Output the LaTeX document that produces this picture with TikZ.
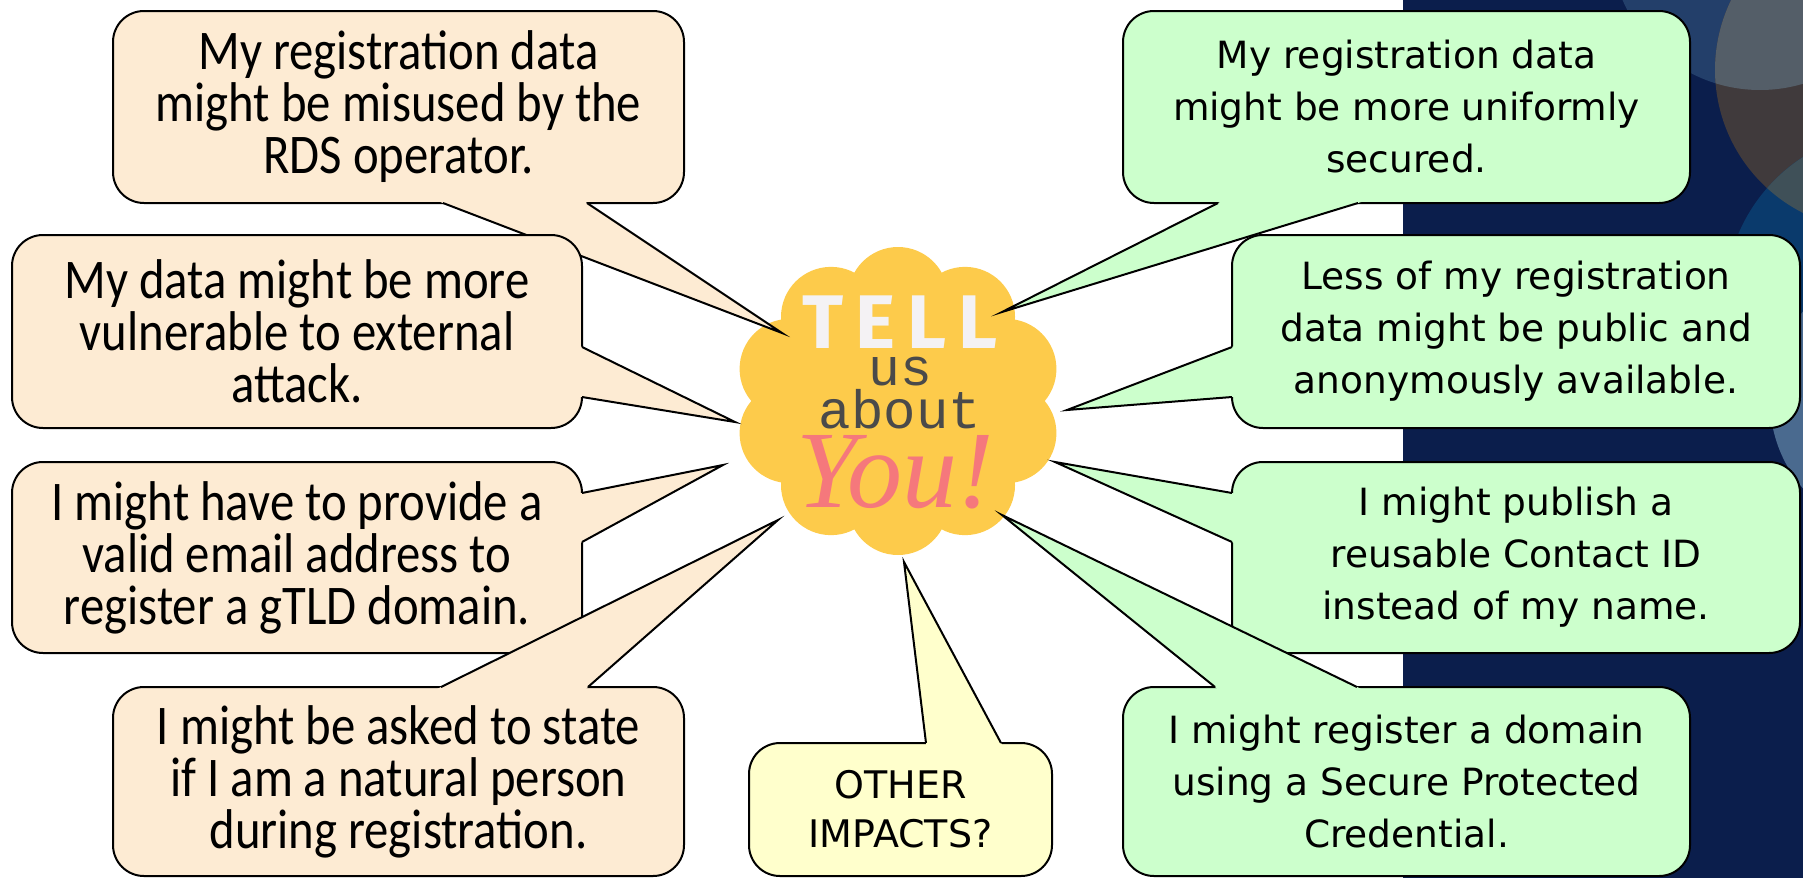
\documentclass[tikz,border=0pt]{standalone}
\usepackage{fontspec}
\usepackage{tikz}
\usetikzlibrary{positioning}
\usetikzlibrary{calc}

\newfontfamily\worryfont{Carlito}[FakeStretch=0.87]
\newfontfamily\hopefont{DejaVu Sans}
\newfontfamily\tellfont{Fira Sans}
\newfontfamily\aboutfont{Liberation Mono}
\newfontfamily\youfont{Liberation Serif}

\definecolor{peach}{HTML}{FDEBD3}
\definecolor{mint}{HTML}{CCFFCC}
\definecolor{lemon}{HTML}{FFFFCC}
\definecolor{sun}{HTML}{FDCB4B}
\definecolor{navy}{HTML}{0B1E4C}
\definecolor{bubbleA}{HTML}{233F6A}
\definecolor{bubbleB}{HTML}{403A3C}
\definecolor{bubbleAB}{HTML}{545E68}
\definecolor{bubbleC}{HTML}{0A3A6C}
\definecolor{bubbleBC}{HTML}{3F5058}
\definecolor{bubbleD}{HTML}{4A6A8F}
\definecolor{ink}{HTML}{4A4A4A}
\definecolor{chalk}{HTML}{F4F2F4}
\definecolor{rose}{HTML}{F5787C}

\begin{document}
\begin{tikzpicture}
        [x=1pt,y=-1pt,
        worry/.style={rectangle,rounded corners=31pt,draw=black,line width=2pt,fill=peach,inner sep=0pt,outer sep=0pt,
align=center,font=\worryfont\fontsize{56}{52}\selectfont},
        hope/.style={worry,fill=mint,font=\hopefont\fontsize{37.5}{52}\selectfont},
        other/.style={hope,fill=lemon,font=\hopefont\fontsize{38}{49}\selectfont},
        tail/.style={draw=black,line width=2pt,miter limit=25},
        bump/.style={fill=sun},
        word/.style={anchor=base,inner sep=0pt,text depth=0pt},]
\useasboundingbox (0,0) rectangle (1803,878);

% Background %
\fill[navy] (1403,0) rectangle (1803,878);
\fill[bubbleA] (1760,-60) circle (150pt);
\fill[bubbleB] (1875,70) circle (160pt);
\fill[bubbleC] (1895,300) circle (170pt);
\begin{scope}
        \clip (1760,-60) circle (150pt);
        \fill[bubbleAB] (1875,70) circle (160pt);
\end{scope}
\begin{scope}
        \clip (1875,70) circle (160pt);
        \fill[bubbleBC] (1895,300) circle (170pt);
\end{scope}
\fill[bubbleD] (1905,400) circle (135pt);

% Cloud %
\coordinate (cloud) at (898,401);
\fill[bump] (cloud) ellipse (118pt and 108pt);
\foreach \a in {90,126,...,414}
        \fill[bump] ($(cloud)+(\a:114 and 104)$) circle (50pt);
\node[word,text height=52pt,text=chalk,font=\tellfont\bfseries\fontsize{76}{76}\selectfont] (tell) at (900,348)
        {T\hspace{12pt}E\hspace{12pt}L\hspace{12pt}L};
\node[word,text height=28pt,text=ink,font=\aboutfont\fontsize{53}{53}\selectfont] (us) at (900,385) {us};
\node[word,text height=36pt,text=ink,font=\aboutfont\fontsize{54}{54}\selectfont] (about) at (900,428) {about};
\node[word,text height=76pt,text=rose,font=\youfont\itshape\fontsize{110}{110}\selectfont] (you) at (895,507) {You!};

% Tips %
\coordinate (p1) at (782,333);
\coordinate (p2) at (735,422);
\coordinate (p3) at (723,465);
\coordinate (p4) at (778,520);
\coordinate (p5) at (904,562);
\coordinate (q1) at (1002,312);
\coordinate (q2) at (1067,410);
\coordinate (q3) at (1055,462);
\coordinate (q4) at (1002,515);

% Concerns %
\node[worry,minimum width=571pt,minimum height=192pt] (l1) at (398.5,107)
        {My registration data\\might be misused by the\\RDS operator.};
\coordinate (l1a) at ($(l1.south west)+(330,0)$);
\coordinate (l1b) at ($(l1.south west)+(474,0)$);
\fill[peach] ($(l1a)!-12pt!(p1)$) -- (p1) -- ($(l1b)!-12pt!(p1)$) -- cycle;
\draw[tail] (l1a) -- (p1) -- (l1b);

\node[worry,minimum width=570pt,minimum height=193pt] (l2) at (297,331.5)
        {My data might be more\\vulnerable to external\\attack.};
\coordinate (l2a) at ($(l2.north east)+(0,112)$);
\coordinate (l2b) at ($(l2.north east)+(0,162)$);
\fill[peach] ($(l2a)!-12pt!(p2)$) -- (p2) -- ($(l2b)!-12pt!(p2)$) -- cycle;
\draw[tail] (l2a) -- (p2) -- (l2b);

\node[worry,minimum width=570pt,minimum height=191pt] (l3) at (297,557.5)
        {I might have to provide a\\valid email address to\\register a gTLD domain.};
\coordinate (l3a) at ($(l3.north east)+(0,31)$);
\coordinate (l3b) at ($(l3.north east)+(0,80)$);
\fill[peach] ($(l3a)!-12pt!(p3)$) -- (p3) -- ($(l3b)!-12pt!(p3)$) -- cycle;
\draw[tail] (l3a) -- (p3) -- (l3b);

\node[worry,minimum width=571pt,minimum height=189pt] (l4) at (398.5,781.5)
        {I might be asked to state\\if I am a natural person\\during registration.};
\coordinate (l4a) at ($(l4.north west)+(328,0)$);
\coordinate (l4b) at ($(l4.north west)+(475,0)$);
\fill[peach] ($(l4a)!-12pt!(p4)$) -- (p4) -- ($(l4b)!-12pt!(p4)$) -- cycle;
\draw[tail] (l4a) -- (p4) -- (l4b);

% Other %
\node[other,minimum width=303pt,minimum height=133pt] (oi) at (900.5,809.5) {OTHER\\IMPACTS?};
\coordinate (oia) at ($(oi.north west)+(177,0)$);
\coordinate (oib) at ($(oi.north west)+(252,0)$);
\fill[lemon] ($(oia)!-12pt!(p5)$) -- (p5) -- ($(oib)!-12pt!(p5)$) -- cycle;
\draw[tail] (oia) -- (p5) -- (oib);

% Benefits %
\node[hope,minimum width=567pt,minimum height=192pt] (r1) at (1406.5,107)
        {My registration data\\might be more uniformly\\secured.};
\coordinate (r1a) at ($(r1.south west)+(95,0)$);
\coordinate (r1b) at ($(r1.south west)+(235,0)$);
\fill[mint] ($(r1a)!-12pt!(q1)$) -- (q1) -- ($(r1b)!-12pt!(q1)$) -- cycle;
\draw[tail] (r1a) -- (q1) -- (r1b);

\node[hope,minimum width=568pt,minimum height=193pt] (r2) at (1516,331.5)
        {Less of my registration\\data might be public and\\anonymously available.};
\coordinate (r2a) at ($(r2.north west)+(0,112)$);
\coordinate (r2b) at ($(r2.north west)+(0,162)$);
\fill[mint] ($(r2a)!-12pt!(q2)$) -- (q2) -- ($(r2b)!-12pt!(q2)$) -- cycle;
\draw[tail] (r2a) -- (q2) -- (r2b);

\node[hope,minimum width=568pt,minimum height=191pt] (r3) at (1516,557.5)
        {I might publish a\\reusable Contact ID\\instead of my name.};
\coordinate (r3a) at ($(r3.north west)+(0,31)$);
\coordinate (r3b) at ($(r3.north west)+(0,80)$);
\fill[mint] ($(r3a)!-12pt!(q3)$) -- (q3) -- ($(r3b)!-12pt!(q3)$) -- cycle;
\draw[tail] (r3a) -- (q3) -- (r3b);

\node[hope,minimum width=567pt,minimum height=189pt] (r4) at (1406.5,781.5)
        {I might register a domain\\using a Secure Protected\\Credential.};
\coordinate (r4a) at ($(r4.north west)+(92,0)$);
\coordinate (r4b) at ($(r4.north west)+(234,0)$);
\fill[mint] ($(r4a)!-12pt!(q4)$) -- (q4) -- ($(r4b)!-12pt!(q4)$) -- cycle;
\draw[tail] (r4a) -- (q4) -- (r4b);
\end{tikzpicture}
\end{document}
